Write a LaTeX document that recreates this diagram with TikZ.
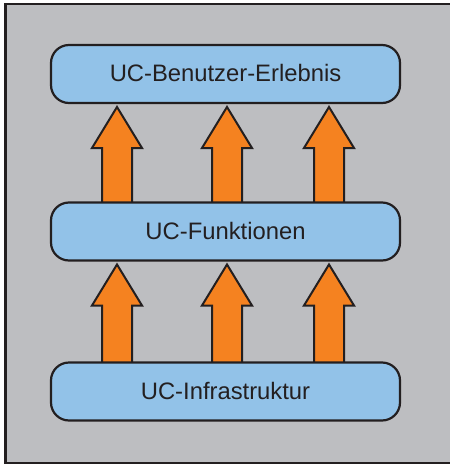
\documentclass[tikz,border=0pt]{standalone}
\usepackage{fontspec}
\setmainfont{Liberation Sans}
\usetikzlibrary{calc}
\definecolor{bggray}{HTML}{BDBEC1}
\definecolor{boxblue}{HTML}{92C2E8}
\definecolor{arrorange}{HTML}{F58220}
\definecolor{inkdark}{HTML}{231F20}
\pgfdeclarelayer{back}
\pgfdeclarelayer{arrows}
\pgfsetlayers{back,arrows,main}
\begin{document}
\begin{tikzpicture}[x=1pt,y=-1pt,
  layerbox/.style={draw=inkdark, line width=2.2pt, fill=boxblue, rounded corners=18pt,
    minimum width=349pt, minimum height=58pt, inner sep=0pt, outer sep=0pt,
    text=inkdark, font=\fontsize{23.8}{26}\selectfont},
  fatarrow/.style={draw=inkdark, line width=2pt, fill=arrorange, line join=miter}]
\useasboundingbox (0,0) rectangle (450,464);
\begin{pgfonlayer}{back}
  \fill[white] (0,0) rectangle (450,464);
  \draw[draw=inkdark, fill=bggray, line width=2.6pt] (5.5,4) rectangle (460,463.2);
\end{pgfonlayer}

\node[layerbox] (top) at (225.5,74) {\raisebox{1.5pt}{UC-Benutzer-Erlebnis}};
\node[layerbox] (mid) at (225.5,231.5) {\raisebox{1.5pt}{UC-Funktionen}};
\node[layerbox] (bot) at (225.5,391.5) {\raisebox{1.5pt}{UC-Infrastruktur}};

\newcommand{\upArrow}[3]{%
  \draw[fatarrow] let \p1=(#2.north), \p2=(#3.south) in
    (#1-15,\y1) -- (#1-15,\y2-45) -- (#1-25,\y2-45) -- (#1,\y2-4)
    -- (#1+25,\y2-45) -- (#1+15,\y2-45) -- (#1+15,\y1);}
\begin{pgfonlayer}{arrows}
  \foreach \cx in {117,227,329} {
    \upArrow{\cx}{mid}{top}
    \upArrow{\cx}{bot}{mid}
  }
\end{pgfonlayer}
\end{tikzpicture}
\end{document}
